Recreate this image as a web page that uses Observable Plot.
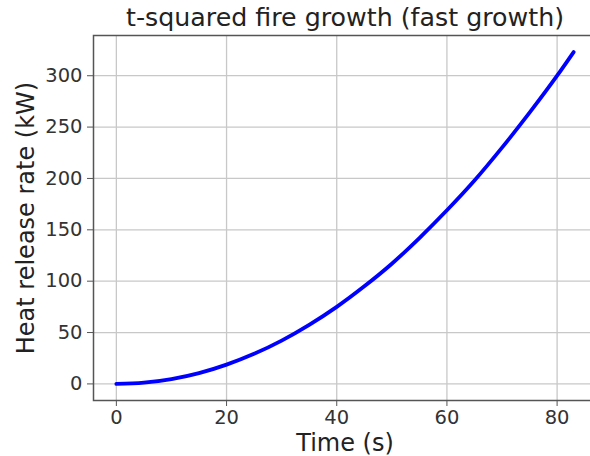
<!DOCTYPE html>
<html>
<head>
<meta charset="utf-8">
<script src="https://cdn.jsdelivr.net/npm/d3@7"></script>
<script src="https://cdn.jsdelivr.net/npm/@observablehq/plot@0.6"></script>
<style>
  html, body { margin: 0; padding: 0; background: white; }
</style>
</head>
<body>
<div id="chart"></div>
<script>
const titleText = "t-squared fire growth (fast growth)";
const xLabel = "Time (s)";
const yLabel = "Heat release rate (kW)";

// values
const timeS = [0, 5, 10, 15, 20, 25, 30, 35, 40, 45, 50, 55, 60, 65, 70, 75, 80, 83];
const hrrKW = [0, 1.2, 4.7, 10.5, 18.8, 29.3, 42.2, 57.5, 75, 95, 117, 142, 169, 198, 230, 264, 300, 323];

const xTicks = [0, 20, 40, 60, 80];
const yTicks = [0, 50, 100, 150, 200, 250, 300];

const data = timeS.map((t, i) => ({t, q: hrrKW[i]}));

const chart = Plot.plot({
  width: 590,
  height: 456,
  marginLeft: 93,
  marginTop: 35,
  marginBottom: 56,
  marginRight: -6,
  style: {fontFamily: "DejaVu Sans", background: "white", color: "#333"},
  x: {domain: [-4.15, 87.15]},
  y: {domain: [-16.15, 339.15]},
  marks: [
    Plot.gridX(xTicks, {stroke: "#c8c8c8", strokeOpacity: 1, strokeWidth: 1.3}),
    Plot.gridY(yTicks, {stroke: "#c8c8c8", strokeOpacity: 1, strokeWidth: 1.3}),
    Plot.axisX(xTicks, {tickSize: 6, tickPadding: 4, fontSize: 19.5, label: null, stroke: "#555"}),
    Plot.axisY(yTicks, {tickSize: 6, tickPadding: 5, fontSize: 19.5, label: null, stroke: "#555"}),
    Plot.frame({stroke: "#555", strokeWidth: 1.5}),
    Plot.line(data, {x: "t", y: "q", stroke: "#0000ff", strokeWidth: 3.8, curve: "monotone-x"}),
    Plot.text([titleText], {frameAnchor: "top", dy: -10, fontSize: 25.3, lineAnchor: "bottom", fill: "#222"}),
    Plot.text([xLabel], {frameAnchor: "bottom", dy: 50, fontSize: 24, lineAnchor: "bottom", fill: "#222"}),
    Plot.text([yLabel], {frameAnchor: "left", dx: -60, rotate: -90, fontSize: 24, textAnchor: "middle", lineAnchor: "bottom", fill: "#222"})
  ]
});
document.getElementById("chart").appendChild(chart);
</script>
</body>
</html>
